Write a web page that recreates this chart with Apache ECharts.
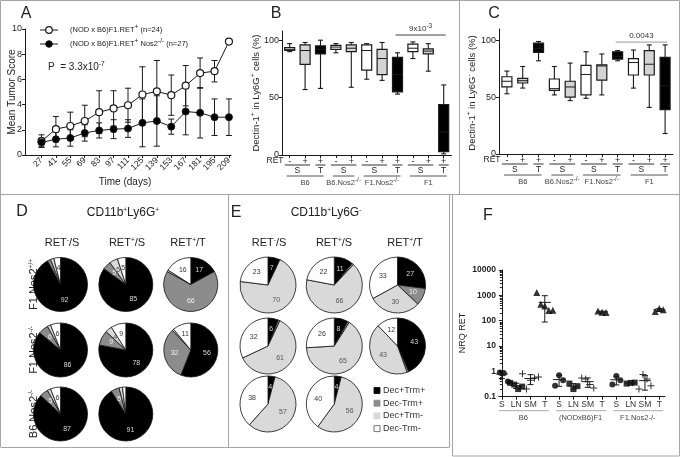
<!DOCTYPE html>
<html>
<head>
<meta charset="utf-8">
<script src="https://cdn.jsdelivr.net/npm/echarts@6/dist/echarts.min.js"></script>
<style>
  html, body { margin: 0; padding: 0; background: #fff; }
  #chart { width: 680px; height: 457px; }
</style>
</head>
<body>
<div id="chart"></div>
<script>
// ---- A: mean tumor score over time
const days = [27, 41, 55, 69, 83, 97, 111, 125, 139, 153, 167, 181, 195, 209];
const scoreRet = [1.1, 2.05, 2.3, 2.7, 3.4, 3.7, 3.95, 4.8, 5.05, 4.75, 5.5, 6.5, 6.65, 9.0];
const errRet = [0.5, 1.0, 1.1, 1.25, 1.7, 1.4, 1.35, 2.2, 2.45, 1.6, 1.6, 1.2, 0.85, 0];
const scoreNos2 = [1.0, 1.25, 1.35, 1.75, 1.95, 2.05, 2.1, 2.55, 2.7, 2.25, 3.45, 3.35, 3.0, 3.0];
const errNos2 = [0.35, 0.6, 0.65, 0.65, 0.6, 0.75, 0.7, 1.9, 2.0, 0.6, 1.85, 2.0, 1.45, 1.45];

// ---- B / C: Dectin-1+ box plots  [min, q1, median, q3, max]
const bcCats = ['B6 S-', 'B6 S+', 'B6 T+', 'B6.Nos2 S-', 'B6.Nos2 S+', 'F1.Nos2 S-', 'F1.Nos2 S+', 'F1.Nos2 T+', 'F1 S-', 'F1 S+', 'F1 T+'];
const retSign = ['-', '+', '+', '-', '+', '-', '+', '+', '-', '+', '+'];
const tissue = ['S', 'S', 'T', 'S', 'S', 'S', 'S', 'T', 'S', 'S', 'T'];
const boxShade = ['w', 'g', 'k', 'w', 'g', 'w', 'g', 'k', 'w', 'g', 'k'];
const strainGroups = [
  { label: 'B6', from: 0, to: 2 },
  { label: 'B6.Nos2{sup|-/-}', from: 3, to: 4 },
  { label: 'F1.Nos2{sup|-/-}', from: 5, to: 7 },
  { label: 'F1', from: 8, to: 10 }
];
const ly6gPos = [
  [90, 91, 92, 93.5, 97], [57, 79, 91, 96, 98], [58, 88, 92, 95, 100],
  [89, 92, 94, 95.5, 97], [59, 90, 93, 96, 98],
  [66, 74, 91, 96, 97], [65, 70, 84, 92, 98], [53, 55, 70, 85, 89],
  [84, 90, 93, 96.5, 98.5], [73, 88, 90.5, 92.5, 97], [1, 3, 20, 44, 61]
];
const ly6gNeg = [
  [53, 59, 64, 68, 73], [58, 62.5, 64.5, 66.5, 77], [82, 89.5, 93, 97.5, 99],
  [52, 56, 57.5, 66, 77], [47, 50, 59, 64, 80],
  [49, 52, 70, 78, 90], [52, 65, 77.5, 78.5, 88], [82, 83.5, 86, 90, 91],
  [58, 69.5, 80.5, 84, 91.5], [41, 69.5, 79, 91, 96], [18, 39, 60, 85, 96]
];

// ---- D / E: pie percentages [Dec+Trm+, Dec-Trm+, Dec+Trm-, Dec-Trm-]
const cellTypes = ['Dec+Trm+', 'Dec-Trm+', 'Dec+Trm-', 'Dec-Trm-'];
const pieRowNames = ['F1.Nos2{sup|+/+}', 'F1.Nos2{sup|-/-}', 'B6.Nos2{sup|-/-}'];
const pieColNames = ['RET{sup|-}/S', 'RET{sup|+}/S', 'RET{sup|+}/T'];
const piesLy6gPos = [
  [[92, 2, 2, 4], [85, 5, 5, 5], [17, 66, 1, 16]],
  [[86, 6, 2, 6], [78, 9, 4, 9], [56, 32, 1, 11]],
  [[87, 5, 2, 6], [91, 5, 2, 2]]
];
const piesLy6gNeg = [
  [[7, 0, 70, 23], [11, 1, 66, 22], [27, 10, 30, 33]],
  [[6, 1, 61, 32], [8, 1, 65, 26], [43, 1, 43, 12]],
  [[4, 0, 57, 38], [4, 0, 56, 40]]
];

// ---- F: NRQ RET (log)
const fTissues = ['S', 'LN', 'SM', 'T'];
const fStrains = ['B6', '(NODxB6)F1', 'F1.Nos2-/-'];
const nrqB6 = [[1.0, 0.9, 0.85, 0.4], [0.35, 0.3, 0.2, 0.25], [0.8, 0.2, 0.45, 0.55, 0.6], [1300, 450, 380, 250, 260]];
const nrqF1 = [[0.27, 0.7, 0.45], [0.33, 0.2, 0.26], [0.55, 0.5, 0.3, 0.22], [240, 215, 210]];
const nrqF1Nos2 = [[0.3, 0.65, 0.45], [0.33, 0.35, 0.36], [0.2, 0.75, 0.5, 0.27], [230, 300, 270]];

const FONT = 'Liberation Sans, Arial, sans-serif';
const INK = '#1a1a1a';
const SHADE = { w: '#ffffff', g: '#d4d4d4', k: '#000000' };
const PIE_COLORS = ['#000000', '#8c8c8c', '#d9d9d9', '#ffffff'];
const PIE_TEXT = ['#d8d8d8', '#f0f0f0', '#555555', '#333333'];
const SUP = { sup: { fontSize: 6.5, fontFamily: FONT, padding: [0, 0, 5, 0] } };

const chart = echarts.init(document.getElementById('chart'));

function valueAxisStyle(extra) {
  return Object.assign({
    axisLine: { show: true, lineStyle: { color: INK, width: 1 } },
    axisTick: { show: true, length: 3, lineStyle: { color: INK } },
    axisLabel: { color: '#222', fontSize: 9, fontFamily: FONT, margin: 3 },
    splitLine: { show: false }
  }, extra);
}

function errRender(params, api) {
  const x = api.value(0);
  const lo = api.coord([x, Math.max(0, api.value(1))]);
  const hi = api.coord([x, api.value(2)]);
  if (api.value(2) - api.value(1) < 1e-6) return null;
  const w = 3, st = { stroke: INK, lineWidth: 1 };
  return {
    type: 'group', children: [
      { type: 'line', shape: { x1: lo[0], y1: lo[1], x2: hi[0], y2: hi[1] }, style: st },
      { type: 'line', shape: { x1: lo[0] - w, y1: lo[1], x2: lo[0] + w, y2: lo[1] }, style: st },
      { type: 'line', shape: { x1: hi[0] - w, y1: hi[1], x2: hi[0] + w, y2: hi[1] }, style: st }
    ]
  };
}

function boxRender(params, api) {
  const i = api.value(0);
  const p = k => api.coord([i, api.value(k)]);
  const x = p(1)[0];
  const yMin = p(1)[1], yQ1 = p(2)[1], yMed = p(3)[1], yQ3 = p(4)[1], yMax = p(5)[1];
  const hw = 5, cw = 2.5;
  const fill = SHADE[boxShade[params.dataIndex]];
  const ls = { stroke: INK, lineWidth: 1.1 };
  return {
    type: 'group', children: [
      { type: 'line', shape: { x1: x, y1: yMax, x2: x, y2: yQ3 }, style: ls },
      { type: 'line', shape: { x1: x, y1: yQ1, x2: x, y2: yMin }, style: ls },
      { type: 'line', shape: { x1: x - cw, y1: yMax, x2: x + cw, y2: yMax }, style: ls },
      { type: 'line', shape: { x1: x - cw, y1: yMin, x2: x + cw, y2: yMin }, style: ls },
      { type: 'rect', shape: { x: x - hw, y: yQ3, width: 2 * hw, height: yQ1 - yQ3 }, style: { fill: fill, stroke: INK, lineWidth: 1.2 } },
      { type: 'line', shape: { x1: x - hw, y1: yMed, x2: x + hw, y2: yMed }, style: { stroke: INK, lineWidth: 1 } }
    ]
  };
}

function meanSdRender(params, api) {
  const x = api.value(0);
  const m = api.coord([x, api.value(1)]);
  const lo = api.coord([x, api.value(2)]);
  const hi = api.coord([x, api.value(3)]);
  const st = { stroke: INK, lineWidth: 1 };
  return {
    type: 'group', children: [
      { type: 'line', shape: { x1: m[0] - 6, y1: m[1], x2: m[0] + 6, y2: m[1] }, style: st },
      { type: 'line', shape: { x1: lo[0], y1: lo[1], x2: hi[0], y2: hi[1] }, style: st },
      { type: 'line', shape: { x1: lo[0] - 3, y1: lo[1], x2: lo[0] + 3, y2: lo[1] }, style: st },
      { type: 'line', shape: { x1: hi[0] - 3, y1: hi[1], x2: hi[0] + 3, y2: hi[1] }, style: st }
    ]
  };
}

// F scatter data
const nrqAll = [nrqB6, nrqF1, nrqF1Nos2];
const fSymbols = ['circle', 'rect', 'path://M3,0H4V3H7V4H4V7H3V4H0V3H3Z', 'triangle'];
const fSizes = [6, 6, 7, 7];
const fScatter = fTissues.map((t, ti) => {
  const pts = [];
  nrqAll.forEach((strain, si) => {
    const vals = strain[ti];
    vals.forEach((v, j) => pts.push([si * 4 + ti + (j - (vals.length - 1) / 2) * 0.28, v]));
  });
  return {
    type: 'scatter', xAxisIndex: 3, yAxisIndex: 3, symbol: fSymbols[ti], symbolSize: fSizes[ti],
    itemStyle: { color: '#000' }, data: pts, z: 3
  };
});
const fMeans = [];
nrqAll.forEach((strain, si) => strain.forEach((vals, ti) => {
  const m = vals.reduce((a, b) => a + b, 0) / vals.length;
  const sd = Math.sqrt(vals.reduce((a, b) => a + (b - m) * (b - m), 0) / (vals.length - 1));
  fMeans.push([si * 4 + ti, m, Math.max(0.1, m - sd), m + sd]);
}));

// pies
const pieSeries = [];
function addPies(grid, xs, ys, r) {
  grid.forEach((row, ri) => row.forEach((vals, ci) => {
    pieSeries.push({
      type: 'pie', center: [xs[ci], ys[ri]], radius: r, startAngle: 90, clockwise: true,
      silent: true, avoidLabelOverlap: false,
      label: { show: true, position: 'inside', fontSize: 7, fontFamily: FONT,
        formatter: p => (p.value >= 4 ? String(p.value) : '') },
      labelLine: { show: false },
      data: vals.map((v, k) => ({
        value: v, name: cellTypes[k],
        itemStyle: { color: PIE_COLORS[k], borderColor: '#111', borderWidth: 0.8 },
        label: { color: PIE_TEXT[k] }
      }))
    });
  }));
}
const dCols = [60.5, 125.8, 190.8], dRows = [284.5, 350, 414];
const eCols = [268, 334.3, 397.5], eRows = [285, 346, 404];
addPies(piesLy6gPos, dCols, dRows, 27);
addPies(piesLy6gNeg, eCols, eRows, 28);

const option = {
  animation: false,
  textStyle: { fontFamily: FONT },
  grid: [
    { left: 25, top: 29, width: 206, height: 126 },
    { left: 282, top: 31, width: 169.4, height: 124 },
    { left: 499, top: 29, width: 174, height: 125 },
    { left: 499, top: 270, width: 166, height: 126.7 }
  ],
  xAxis: [
    valueAxisStyle({ type: 'value', gridIndex: 0, min: 11, max: 211,
      axisTick: { show: true, length: 3, customValues: days, lineStyle: { color: INK } },
      axisLabel: { customValues: days, rotate: 45, fontSize: 8.5, color: '#222', fontFamily: FONT, margin: 4 } }),
    valueAxisStyle({ type: 'category', gridIndex: 1, data: bcCats,
      axisTick: { show: true, alignWithLabel: true, length: 3, lineStyle: { color: INK } },
      axisLabel: { formatter: (v, i) => retSign[i], fontSize: 9, color: '#222', fontFamily: FONT, margin: 2, interval: 0 } }),
    valueAxisStyle({ type: 'category', gridIndex: 2, data: bcCats,
      axisTick: { show: true, alignWithLabel: true, length: 3, lineStyle: { color: INK } },
      axisLabel: { formatter: (v, i) => retSign[i], fontSize: 9, color: '#222', fontFamily: FONT, margin: 2, interval: 0 } }),
    valueAxisStyle({ type: 'value', gridIndex: 3, min: -0.2, max: 11.4,
      axisTick: { show: true, length: 3, customValues: [0, 1, 2, 3, 4, 5, 6, 7, 8, 9, 10, 11], lineStyle: { color: INK } },
      axisLabel: { customValues: [0, 1, 2, 3, 4, 5, 6, 7, 8, 9, 10, 11], formatter: v => fTissues[Math.round(v) % 4],
        fontSize: 8.5, color: '#333', fontFamily: FONT, margin: 3 } })
  ],
  yAxis: [
    valueAxisStyle({ type: 'value', gridIndex: 0, min: 0, max: 10, interval: 2 }),
    valueAxisStyle({ type: 'value', gridIndex: 1, min: 0, max: 108,
      axisTick: { show: true, length: 3, customValues: [0, 50, 100], lineStyle: { color: INK } },
      axisLabel: { customValues: [0, 50, 100], fontSize: 9, color: '#222', fontFamily: FONT, margin: 3 } }),
    valueAxisStyle({ type: 'value', gridIndex: 2, min: 0, max: 110,
      axisTick: { show: true, length: 3, customValues: [0, 50, 100], lineStyle: { color: INK } },
      axisLabel: { customValues: [0, 50, 100], fontSize: 9, color: '#222', fontFamily: FONT, margin: 3 } }),
    valueAxisStyle({ type: 'log', gridIndex: 3, logBase: 10, min: 0.1, max: 10000,
      minorTick: { show: true, splitNumber: 9, length: 2, lineStyle: { color: INK } },
      axisLabel: { formatter: v => (v < 1 ? v.toFixed(1) : String(Math.round(v))),
        fontSize: 8.5, fontWeight: 'bold', color: '#222', fontFamily: FONT, margin: 3 } })
  ],
  series: [
    { type: 'custom', xAxisIndex: 0, yAxisIndex: 0, renderItem: errRender, z: 1,
      data: days.map((d, i) => [d, scoreRet[i] - errRet[i], scoreRet[i] + errRet[i]]) },
    { type: 'custom', xAxisIndex: 0, yAxisIndex: 0, renderItem: errRender, z: 1,
      data: days.map((d, i) => [d, scoreNos2[i] - errNos2[i], scoreNos2[i] + errNos2[i]]) },
    { type: 'line', xAxisIndex: 0, yAxisIndex: 0, z: 3, symbol: 'circle', symbolSize: 7,
      lineStyle: { color: INK, width: 1 }, itemStyle: { color: '#fff', borderColor: INK, borderWidth: 1.2 },
      data: days.map((d, i) => [d, scoreRet[i]]) },
    { type: 'line', xAxisIndex: 0, yAxisIndex: 0, z: 3, symbol: 'circle', symbolSize: 7,
      lineStyle: { color: INK, width: 1 }, itemStyle: { color: '#000', borderColor: INK, borderWidth: 1 },
      data: days.map((d, i) => [d, scoreNos2[i]]) },
    { type: 'custom', xAxisIndex: 1, yAxisIndex: 1, renderItem: boxRender,
      encode: { x: 0, y: [1, 2, 3, 4, 5] }, data: ly6gPos.map((b, i) => [i].concat(b)) },
    { type: 'custom', xAxisIndex: 2, yAxisIndex: 2, renderItem: boxRender,
      encode: { x: 0, y: [1, 2, 3, 4, 5] }, data: ly6gNeg.map((b, i) => [i].concat(b)) },
    { type: 'custom', xAxisIndex: 3, yAxisIndex: 3, renderItem: meanSdRender, z: 4,
      encode: { x: 0, y: [1, 2, 3] }, data: fMeans }
  ].concat(fScatter, pieSeries)
};
chart.setOption(option);

// ---- annotations (positions taken from the axes)
const px = (ax, pt) => chart.convertToPixel({ xAxisIndex: ax, yAxisIndex: ax }, pt);
function txt(x, y, text, o) {
  return { type: 'text', x: x, y: y, silent: true, rotation: (o && o.rotation) || 0,
    style: Object.assign({ text: text, fontSize: 9, fontFamily: FONT, fill: '#222',
      align: 'center', verticalAlign: 'middle', textAlign: 'center', textVerticalAlign: 'middle', rich: SUP },
      o && o.style) };
}
function ln(x1, y1, x2, y2, color, w) {
  return { type: 'line', silent: true, shape: { x1: x1, y1: y1, x2: x2, y2: y2 },
    style: { stroke: color || INK, lineWidth: w || 1 } };
}
const g = [];

// panel frames
const FR = '#a6a6a6';
g.push(ln(0.5, 0.5, 679.5, 0.5, FR), ln(0.5, 0.5, 0.5, 447, FR), ln(679.5, 0.5, 679.5, 456, FR));
g.push(ln(0.5, 194.5, 679.5, 194.5, FR), ln(459.5, 0.5, 459.5, 194.5, FR));
g.push(ln(228.5, 194.5, 228.5, 447, FR), ln(449.5, 194.5, 449.5, 447, FR), ln(452.5, 194.5, 452.5, 456, FR));
g.push(ln(0.5, 447.5, 449.5, 447.5, FR), ln(452.5, 456, 679.5, 456, FR));

// panel letters
[['A', 26, 14], ['B', 276, 14], ['C', 494, 14], ['D', 22, 212], ['E', 236, 213], ['F', 488, 216]].forEach(l =>
  g.push(txt(l[1], l[2], l[0], { style: { fontSize: 16 } })));

// A
g.push(txt(12, 92, 'Mean Tumor Score', { rotation: Math.PI / 2, style: { fontSize: 10 } }));
g.push(txt(125, 182, 'Time (days)', { style: { fontSize: 10 } }));
g.push(ln(40, 30, 58, 30), { type: 'circle', silent: true, shape: { cx: 49, cy: 30, r: 3.3 }, style: { fill: '#fff', stroke: INK, lineWidth: 1.2 } });
g.push(ln(40, 44, 58, 44), { type: 'circle', silent: true, shape: { cx: 49, cy: 44, r: 3.3 }, style: { fill: '#000', stroke: INK } });
g.push(txt(70, 30, '(NOD x B6)F1.RET{sup|+} (n=24)', { style: { fontSize: 7.5, align: 'left', textAlign: 'left' } }));
g.push(txt(70, 44, '(NOD x B6)F1.RET{sup|+} Nos2{sup|-/-} (n=27)', { style: { fontSize: 7.5, align: 'left', textAlign: 'left' } }));
g.push(txt(48, 67, 'P  = 3.3x10{sup|-7}', { style: { fontSize: 10, align: 'left', textAlign: 'left' } }));

// B and C
function bcLabels(ax, yName, yNameX, retX, sigVal, sigText, sigColor) {
  const y0 = px(ax, [0, 0])[1];
  const cx = i => px(ax, [i, 0])[0];
  g.push(txt(yNameX, 93, yName, { rotation: Math.PI / 2, style: { fontSize: 9.5 } }));
  g.push(txt(retX, y0 + 6, 'RET', { style: { fontSize: 8.5 } }));
  strainGroups.forEach(sg => {
    const idx = [];
    for (let i = sg.from; i <= sg.to; i++) idx.push(i);
    const tis = [];
    idx.forEach(i => { if (tis.indexOf(tissue[i]) < 0) tis.push(tissue[i]); });
    tis.forEach(t => {
      const items = idx.filter(i => tissue[i] === t);
      const xa = cx(items[0]), xb = cx(items[items.length - 1]);
      g.push(ln(xa - 5, y0 + 10, xb + 5, y0 + 10, '#333'));
      g.push(txt((xa + xb) / 2, y0 + 16, t, { style: { fontSize: 8.5 } }));
    });
    const xa = cx(sg.from), xb = cx(sg.to);
    g.push(ln(xa - 3, y0 + 21, xb + 3, y0 + 21, '#555'));
    g.push(txt((xa + xb) / 2, y0 + 28, sg.label, { style: { fontSize: 7.5, fill: '#444' } }));
  });
  const a = px(ax, [7, sigVal]), b = px(ax, [10, sigVal]);
  g.push(ln(a[0] - 2, a[1], b[0] + 2, b[1], sigColor));
  g.push(txt((a[0] + b[0]) / 2, a[1] - 6, sigText, { style: { fontSize: 8, fill: '#333' } }));
}
bcLabels(1, 'Dectin-1{sup|+} in Ly6G{sup|+} cells (%)', 256, 275, 104.5, '9x10{sup|-3}', '#444');
bcLabels(2, 'Dectin-1{sup|+} in Ly6G{sup|-} cells (%)', 472, 492, 98.5, '0.0043', '#999');

// D and E headings
function pieLabels(title, titleX, cols, rows, withRows) {
  g.push(txt(titleX, 213, title, { style: { fontSize: 12 } }));
  pieColNames.forEach((c, i) => g.push(txt(cols[i], 243, c, { style: { fontSize: 11 } })));
  if (withRows) pieRowNames.forEach((r, i) => g.push(txt(34, rows[i], r, { rotation: Math.PI / 2, style: { fontSize: 11 } })));
}
pieLabels('CD11b{sup|+}Ly6G{sup|+}', 123, [62, 127, 188], dRows, true);
pieLabels('CD11b{sup|+}Ly6G{sup|-}', 326, [269, 334, 405], eRows, false);
cellTypes.forEach((c, k) => {
  const y = 390.5 + k * 12.7;
  g.push({ type: 'rect', silent: true, shape: { x: 374, y: y - 3, width: 6, height: 6 },
    style: { fill: PIE_COLORS[k], stroke: k === 3 ? '#555' : PIE_COLORS[k], lineWidth: 0.8 } });
  g.push(txt(383, y, c, { style: { fontSize: 9, align: 'left', textAlign: 'left', fill: '#333' } }));
});

// F
g.push(txt(463, 333, 'NRQ RET', { rotation: Math.PI / 2, style: { fontSize: 9 } }));
fStrains.forEach((s, si) => {
  const a = px(3, [si * 4, 1]), b = px(3, [si * 4 + 3, 1]);
  const yb = px(3, [0, 0.1])[1];
  g.push(ln(a[0] - 3, yb + 14, b[0] + 4, yb + 14, '#aaa'));
  g.push(txt((a[0] + b[0]) / 2, yb + 21, s, { style: { fontSize: 7.5, fill: '#444' } }));
});

chart.setOption({ graphic: { elements: g } });
</script>
</body>
</html>
